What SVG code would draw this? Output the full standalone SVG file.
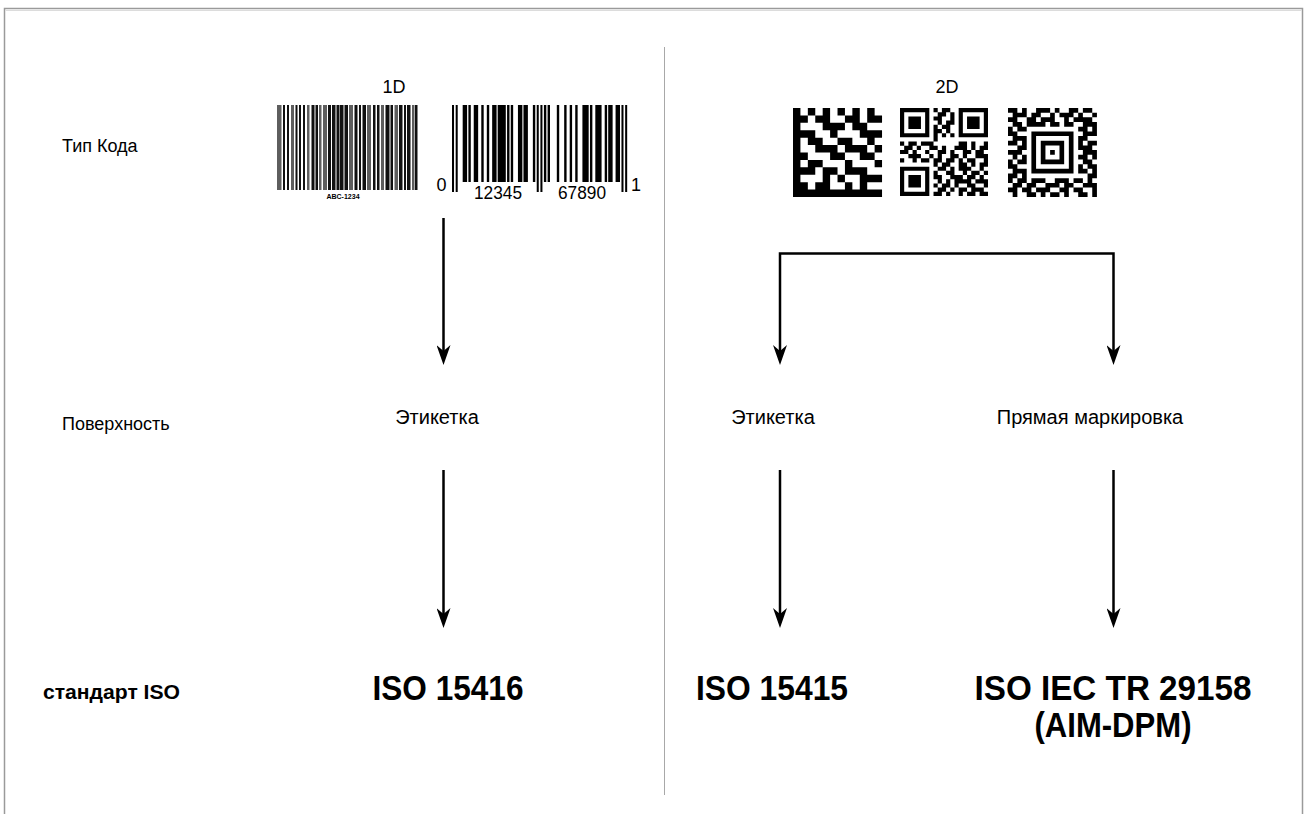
<svg xmlns="http://www.w3.org/2000/svg" width="1304" height="814" viewBox="0 0 1304 814">
<defs>
<style>
.t{font-family:"Liberation Sans",Arial,sans-serif;font-size:18px;fill:#000}
.s{font-size:20px}
.b{font-family:"Liberation Sans",Arial,sans-serif;font-weight:bold;fill:#000}
.iso{font-size:35px}
.c{stroke:#000;stroke-width:2.5;fill:none}
.g{fill:#5e5e5e}
.k{fill:#111}
.bar{fill:#000}
</style>
<marker id="ah" viewBox="-20 -7 20 14" refX="-12" refY="0" markerWidth="20" markerHeight="14" markerUnits="userSpaceOnUse" orient="auto-start-reverse">
<path d="M0,0 L-20,-7 L-14,0 L-20,7 Z" fill="#000"/>
</marker>
</defs>
<rect width="1304" height="814" fill="#fff"/>
<g id="frame">
<path d="M4.5,814 V8.5 H1302.5 V814" fill="none" stroke="#9a9a9a" stroke-width="1.5"/>
<path d="M5.5,10.5 H1301.5" stroke="#dcdcdc" stroke-width="1"/>
<line x1="664.5" y1="47" x2="664.5" y2="795" stroke="#a8a8a8" stroke-width="1"/>
</g>
<g id="row-labels">
<text class="t" x="62" y="152">Тип Кода</text>
<text class="t" x="62" y="430">Поверхность</text>
<text class="b" x="43" y="699" font-size="20" textLength="137" lengthAdjust="spacingAndGlyphs">стандарт ISO</text>
</g>
<g id="node-1d">
<text class="t" x="394" y="93" text-anchor="middle">1D</text>
<g id="barcode-code39" transform="translate(277,105)">
<rect class="g" x="0" width="4.5" height="85"/><rect class="k" x="6" width="2" height="85"/><rect class="k" x="10" width="2" height="85"/><rect class="g" x="14" width="3" height="85"/><rect class="k" x="18.5" width="2" height="85"/><rect class="k" x="22" width="2" height="85"/><rect class="k" x="26" width="2" height="85"/><rect class="g" x="30" width="2.5" height="85"/><rect class="k" x="34.5" width="3" height="85"/><rect class="k" x="38.5" width="2.5" height="85"/><rect class="g" x="42" width="2.5" height="85"/><rect class="g" x="46" width="4" height="85"/><rect class="k" x="51" width="3" height="85"/><rect class="k" x="55" width="3.5" height="85"/><rect class="k" x="59.5" width="3" height="85"/><rect class="k" x="63" width="3.5" height="85"/><rect class="k" x="67.5" width="3.5" height="85"/><rect class="g" x="72" width="4" height="85"/><rect class="k" x="77.5" width="3" height="85"/><rect class="k" x="82" width="2" height="85"/><rect class="k" x="85.5" width="3.5" height="85"/><rect class="g" x="90" width="4" height="85"/><rect class="k" x="96" width="2.5" height="85"/><rect class="k" x="100" width="2.5" height="85"/><rect class="g" x="104" width="3" height="85"/><rect class="k" x="108.5" width="4" height="85"/><rect class="k" x="113.5" width="2.5" height="85"/><rect class="g" x="117.5" width="3.5" height="85"/><rect class="k" x="122" width="3.5" height="85"/><rect class="k" x="127" width="2" height="85"/><rect class="k" x="130" width="3.5" height="85"/><rect class="g" x="135" width="2.5" height="85"/><rect class="k" x="138" width="2.5" height="85"/>
</g>
<text class="b" x="343" y="199" font-size="7" fill="#333" text-anchor="middle">ABC-1234</text>
<g id="barcode-upc" transform="translate(452,105) scale(1.842,1)">
<rect class="bar" x="0" width="1.1" height="87"/><rect class="bar" x="2" width="1.1" height="87"/>
<rect class="bar" x="5.8" width="2.4" height="77"/><rect class="bar" x="8.9" width="1.3" height="77"/>
<rect class="bar" x="11.8" width="2.4" height="77"/><rect class="bar" x="15.9" width="1.3" height="77"/>
<rect class="bar" x="18.9" width="1.3" height="77"/><rect class="bar" x="21.8" width="2.4" height="77"/>
<rect class="bar" x="24.8" width="4.4" height="77"/><rect class="bar" x="29.9" width="1.3" height="77"/>
<rect class="bar" x="31.9" width="1.3" height="77"/><rect class="bar" x="35.8" width="2.4" height="77"/>
<rect class="bar" x="38.8" width="2.4" height="77"/><rect class="bar" x="43.9" width="1.3" height="77"/>
<rect class="bar" x="46" width="1.1" height="87"/><rect class="bar" x="48" width="1.1" height="87"/>
<rect class="bar" x="49.9" width="1.3" height="77"/><rect class="bar" x="51.9" width="1.3" height="77"/>
<rect class="bar" x="56.9" width="1.3" height="77"/><rect class="bar" x="60.9" width="1.3" height="77"/>
<rect class="bar" x="63.9" width="1.3" height="77"/><rect class="bar" x="66.9" width="1.3" height="77"/>
<rect class="bar" x="70.8" width="3.4" height="77"/><rect class="bar" x="74.9" width="1.3" height="77"/>
<rect class="bar" x="77.8" width="3.4" height="77"/><rect class="bar" x="82.9" width="1.3" height="77"/>
<rect class="bar" x="84.8" width="2.4" height="77"/><rect class="bar" x="88.8" width="2.4" height="77"/>
<rect class="bar" x="92" width="1.1" height="87"/><rect class="bar" x="94" width="1.1" height="87"/>
</g>
<text class="t" x="441.5" y="191" font-size="14" text-anchor="middle">0</text>
<text class="t" x="498" y="199" font-size="15" text-anchor="middle" textLength="48" lengthAdjust="spacingAndGlyphs">12345</text>
<text class="t" x="582" y="199" font-size="15" text-anchor="middle" textLength="48" lengthAdjust="spacingAndGlyphs">67890</text>
<text class="t" x="636" y="191" font-size="14" text-anchor="middle">1</text>
</g>
<g id="node-2d">
<text class="t" x="947" y="93" text-anchor="middle">2D</text>
<path id="datamatrix" transform="translate(793,108) scale(7.42)" fill="#000" d="M0 0h1v1h-1z M2 0h1v1h-1z M4 0h1v1h-1z M6 0h1v1h-1z M8 0h1v1h-1z M10 0h1v1h-1z M0 1h2v1h-2z M3 1h2v1h-2z M7 1h2v1h-2z M10 1h2v1h-2z M0 2h1v1h-1z M4 2h3v1h-3z M8 2h2v1h-2z M0 3h3v1h-3z M5 3h1v1h-1z M9 3h3v1h-3z M0 4h1v1h-1z M2 4h2v1h-2z M6 4h2v1h-2z M10 4h1v1h-1z M0 5h1v1h-1z M3 5h3v1h-3z M7 5h3v1h-3z M11 5h1v1h-1z M0 6h2v1h-2z M5 6h2v1h-2z M9 6h2v1h-2z M0 7h1v1h-1z M2 7h2v1h-2z M7 7h1v1h-1z M11 7h1v1h-1z M0 8h3v1h-3z M4 8h2v1h-2z M7 8h3v1h-3z M0 9h1v1h-1z M4 9h1v1h-1z M6 9h1v1h-1z M9 9h3v1h-3z M0 10h2v1h-2z M3 10h2v1h-2z M7 10h1v1h-1z M9 10h1v1h-1z M0 11h12v1h-12z"/>
<path id="qrcode" transform="translate(900,108) scale(4.19)" fill="#000" d="M0 0h7v1h-7z M0 6h7v1h-7z M0 1h1v5h-1z M6 1h1v5h-1z M2 2h3v3h-3z M14 0h7v1h-7z M14 6h7v1h-7z M14 1h1v5h-1z M20 1h1v5h-1z M16 2h3v3h-3z M0 14h7v1h-7z M0 20h7v1h-7z M0 15h1v5h-1z M6 15h1v5h-1z M2 16h3v3h-3z M8 0h1v1h-1z M10 0h2v1h-2z M9 1h2v1h-2z M12 1h1v1h-1z M8 2h2v1h-2z M12 2h1v1h-1z M9 3h1v1h-1z M11 3h2v1h-2z M8 4h1v1h-1z M10 4h2v1h-2z M8 5h2v1h-2z M11 5h1v1h-1z M8 6h1v1h-1z M10 6h1v1h-1z M12 6h1v1h-1z M8 7h1v1h-1z M0 8h1v1h-1z M2 8h2v1h-2z M5 8h3v1h-3z M14 8h2v1h-2z M17 8h1v1h-1z M20 8h1v1h-1z M1 9h2v1h-2z M4 9h1v1h-1z M7 9h2v1h-2z M10 9h1v1h-1z M13 9h3v1h-3z M17 9h1v1h-1z M19 9h2v1h-2z M0 10h2v1h-2z M3 10h1v1h-1z M6 10h1v1h-1z M9 10h2v1h-2z M12 10h1v1h-1z M15 10h2v1h-2z M18 10h2v1h-2z M2 11h3v1h-3z M7 11h1v1h-1z M9 11h1v1h-1z M12 11h2v1h-2z M15 11h1v1h-1z M18 11h3v1h-3z M0 12h1v1h-1z M3 12h1v1h-1z M5 12h2v1h-2z M8 12h2v1h-2z M11 12h2v1h-2z M14 12h1v1h-1z M16 12h2v1h-2z M20 12h1v1h-1z M8 13h1v1h-1z M10 13h2v1h-2z M14 13h2v1h-2z M17 13h1v1h-1z M19 13h2v1h-2z M9 14h2v1h-2z M12 14h1v1h-1z M14 14h3v1h-3z M19 14h1v1h-1z M8 15h1v1h-1z M11 15h2v1h-2z M15 15h1v1h-1z M17 15h2v1h-2z M20 15h1v1h-1z M8 16h2v1h-2z M12 16h3v1h-3z M16 16h2v1h-2z M19 16h1v1h-1z M9 17h1v1h-1z M11 17h1v1h-1z M13 17h4v1h-4z M18 17h3v1h-3z M8 18h1v1h-1z M10 18h2v1h-2z M13 18h1v1h-1z M16 18h2v1h-2z M20 18h1v1h-1z M9 19h2v1h-2z M12 19h1v1h-1z M14 19h2v1h-2z M17 19h3v1h-3z M8 20h2v1h-2z M11 20h1v1h-1z M14 20h1v1h-1z M16 20h2v1h-2z M19 20h2v1h-2z"/>
<g id="aztec" transform="translate(1008,108) scale(4.68)" fill="#000">
<path fill-rule="evenodd" d="M5 5h9v9h-9z M6 6h7v7h-7z M7 7h5v5h-5z M8 8h3v3h-3z M9 9h1v1h-1z"/>
<path d="M0 0h2v1h-2z M3 0h1v1h-1z M6 0h3v1h-3z M10 0h1v1h-1z M13 0h2v1h-2z M16 0h2v1h-2z M1 1h3v1h-3z M5 1h2v1h-2z M9 1h1v1h-1z M11 1h3v1h-3z M15 1h1v1h-1z M18 1h1v1h-1z M0 2h2v1h-2z M4 2h2v1h-2z M7 2h3v1h-3z M12 2h1v1h-1z M14 2h4v1h-4z M1 3h2v1h-2z M4 3h4v1h-4z M9 3h2v1h-2z M12 3h2v1h-2z M16 3h3v1h-3z M0 4h1v1h-1z M2 4h2v1h-2z M15 4h2v1h-2z M18 4h1v1h-1z M0 5h2v1h-2z M16 5h3v1h-3z M1 6h3v1h-3z M15 6h2v1h-2z M0 7h2v1h-2z M3 7h1v1h-1z M15 7h1v1h-1z M17 7h2v1h-2z M2 8h2v1h-2z M15 8h3v1h-3z M0 9h3v1h-3z M16 9h3v1h-3z M1 10h1v1h-1z M3 10h1v1h-1z M15 10h2v1h-2z M18 10h1v1h-1z M0 11h1v1h-1z M2 11h2v1h-2z M16 11h2v1h-2z M0 12h2v1h-2z M15 12h1v1h-1z M17 12h2v1h-2z M1 13h3v1h-3z M15 13h2v1h-2z M18 13h1v1h-1z M0 14h2v1h-2z M3 14h1v1h-1z M17 14h2v1h-2z M0 15h1v1h-1z M2 15h2v1h-2z M5 15h3v1h-3z M10 15h3v1h-3z M14 15h2v1h-2z M17 15h1v1h-1z M1 16h2v1h-2z M4 16h2v1h-2z M8 16h3v1h-3z M12 16h2v1h-2z M16 16h3v1h-3z M0 17h2v1h-2z M3 17h2v1h-2z M6 17h3v1h-3z M11 17h2v1h-2z M14 17h2v1h-2z M18 17h1v1h-1z M1 18h1v1h-1z M4 18h2v1h-2z M7 18h1v1h-1z M9 18h2v1h-2z M12 18h1v1h-1z M15 18h2v1h-2z M18 18h1v1h-1z"/>
</g>
</g>
<g id="node-label-left">
<text class="t s" x="437" y="424" text-anchor="middle">Этикетка</text>
</g>
<g id="node-label-right">
<text class="t s" x="773" y="424" text-anchor="middle">Этикетка</text>
</g>
<g id="node-dpm">
<text class="t s" x="1090" y="424" text-anchor="middle">Прямая маркировка</text>
</g>
<g id="node-iso15416">
<text class="b iso" x="448" y="700" text-anchor="middle" textLength="151" lengthAdjust="spacingAndGlyphs">ISO 15416</text>
</g>
<g id="node-iso15415">
<text class="b iso" x="772" y="700" text-anchor="middle" textLength="152" lengthAdjust="spacingAndGlyphs">ISO 15415</text>
</g>
<g id="node-iso29158">
<text class="b iso" x="1113" y="700" text-anchor="middle" textLength="277" lengthAdjust="spacingAndGlyphs">ISO IEC TR 29158</text>
<text class="b iso" x="1113" y="737" text-anchor="middle" textLength="157" lengthAdjust="spacingAndGlyphs">(AIM-DPM)</text>
</g>
<g id="connectors">
<path class="c" d="M443.5,218 V353" marker-end="url(#ah)"/>
<path class="c" d="M443.5,470 V616" marker-end="url(#ah)"/>
<path class="c" d="M780,353 V253.5 H1113.5 V353" marker-start="url(#ah)" marker-end="url(#ah)"/>
<path class="c" d="M780,470 V616" marker-end="url(#ah)"/>
<path class="c" d="M1113.5,470 V616" marker-end="url(#ah)"/>
</g>
</svg>
